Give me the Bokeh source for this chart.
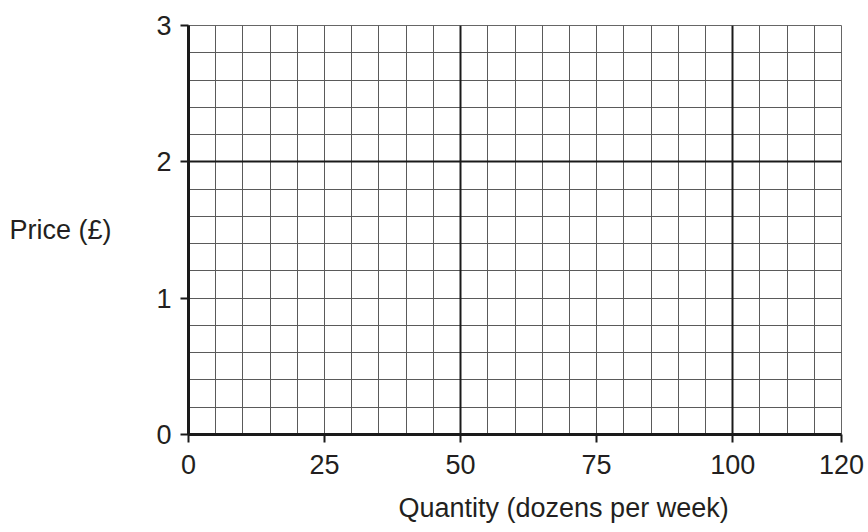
from bokeh.plotting import figure
from bokeh.models import FixedTicker, Grid, Range1d, Title
from bokeh.embed import file_html
from bokeh.resources import INLINE

# ---- data (axes, ticks, grid) ----
x_ticks = [0, 25, 50, 75, 100, 120]
y_ticks = [0, 1, 2, 3]
x_minor = list(range(0, 121, 5))
y_minor = [round(i * 0.2, 1) for i in range(0, 16)]
x_major = [50, 100]
y_major = [2]
x_title = "Quantity (dozens per week)"
y_title = "Price (£)"

FONT = "Liberation Sans"
TXT = "#231f20"
FS = "27px"

p = figure(
    frame_width=653, frame_height=409,
    min_border_left=188, min_border_right=24, min_border_top=25, min_border_bottom=96,
    x_range=Range1d(0, 120), y_range=Range1d(0, 3),
    output_backend="svg", toolbar_location=None,
)
p.background_fill_color = "white"
p.border_fill_color = "white"
p.outline_line_color = "#666666"
p.outline_line_width = 1

# minor grid
p.xgrid.ticker = FixedTicker(ticks=x_minor)
p.ygrid.ticker = FixedTicker(ticks=y_minor)
for g in (p.xgrid, p.ygrid):
    g.grid_line_color = "#5a5a5a"
    g.grid_line_width = 1
    g.grid_line_alpha = 1.0

# major grid
p.add_layout(Grid(dimension=0, ticker=FixedTicker(ticks=x_major),
                  grid_line_color="#1a1a1a", grid_line_width=2))
p.add_layout(Grid(dimension=1, ticker=FixedTicker(ticks=y_major),
                  grid_line_color="#1a1a1a", grid_line_width=2))

# axes
for ax in (p.xaxis[0], p.yaxis[0]):
    ax.axis_line_color = "#1a1a1a"
    ax.axis_line_width = 3
    ax.major_tick_line_color = "#1a1a1a"
    ax.major_tick_line_width = 2
    ax.major_tick_out = 8
    ax.major_tick_in = 0
    ax.minor_tick_line_color = None
    ax.major_label_text_font = FONT
    ax.major_label_text_font_size = FS
    ax.major_label_text_color = TXT

p.xaxis.major_label_standoff = 12
p.yaxis.major_label_standoff = 9

p.xaxis.ticker = FixedTicker(ticks=x_ticks)
p.yaxis.ticker = FixedTicker(ticks=y_ticks)

p.yaxis.axis_label = y_title
p.yaxis.axis_label_orientation = "horizontal"
p.yaxis.axis_label_text_font = FONT
p.yaxis.axis_label_text_font_size = FS
p.yaxis.axis_label_text_font_style = "normal"
p.yaxis.axis_label_text_color = TXT
p.yaxis.axis_label_standoff = 42

t = Title(text=x_title, align="left", offset=210, standoff=29,
          text_font=FONT, text_font_size=FS, text_font_style="normal",
          text_color=TXT)
p.add_layout(t, "below")

open("out.html", "w").write(file_html(p, INLINE))
